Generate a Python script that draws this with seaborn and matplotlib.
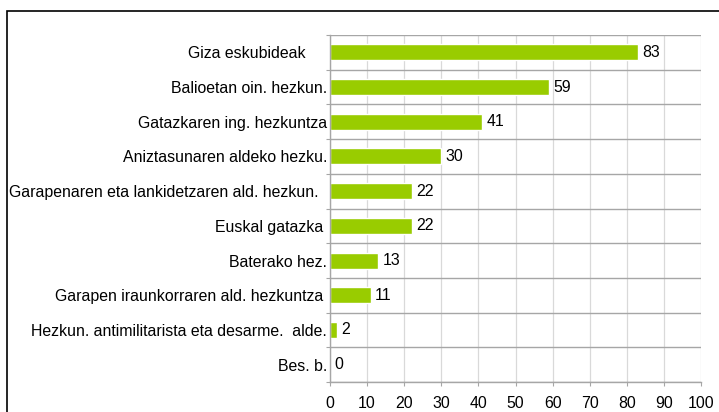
#!/usr/bin/env python3
"""Horizontal bar chart of education topics (counts) with seaborn."""

import matplotlib
matplotlib.use("Agg")
import matplotlib.pyplot as plt
from matplotlib.patches import Rectangle
import numpy as np
import pandas as pd
import seaborn as sns

categories = [
    "Giza eskubideak     ",
    "Balioetan oin. hezkun.",
    "Gatazkaren ing. hezkuntza",
    "Aniztasunaren aldeko hezku.",
    "Garapenaren eta lankidetzaren ald. hezkun.  ",
    "Euskal gatazka ",
    "Baterako hez.",
    "Garapen iraunkorraren ald. hezkuntza ",
    "Hezkun. antimilitarista eta desarme.  alde.",
    "Bes. b.",
]
values = [83, 59, 41, 30, 22, 22, 13, 11, 2, 0]
x_ticks = list(range(0, 101, 10))

BAR_COLOR = "#99CC00"
FS = 11.4

sns.set_theme(style="white")
plt.rcParams["font.family"] = ["Liberation Sans", "DejaVu Sans"]
plt.rcParams["font.size"] = FS

df = pd.DataFrame({"label": categories, "value": values})

fig = plt.figure(figsize=(7.19, 4.12), dpi=100)
ax = fig.add_axes([330 / 719, 1 - 382 / 412, 371 / 719, 347 / 412])

sns.barplot(data=df, x="value", y="label", orient="h", color=BAR_COLOR,
            saturation=1, width=0.46, ax=ax)

ax.set_xlim(0, 100)
ax.set_ylim(len(categories) - 0.5, -0.5)
ax.set_xlabel("")
ax.set_ylabel("")

# vertical light grid at the x ticks
ax.set_xticks(x_ticks)
ax.set_xticklabels([str(t) for t in x_ticks])
ax.grid(axis="x", which="major", color="#D9D9D9", linewidth=0.9)

# horizontal darker lines at category boundaries
ax.set_yticks(np.arange(-0.5, len(categories), 1.0), minor=True)
ax.grid(axis="y", which="minor", color="#A6A6A6", linewidth=1.0)
ax.set_axisbelow(True)

ax.tick_params(axis="y", which="major", length=0, pad=2, labelsize=FS, colors="black")
ax.tick_params(axis="y", which="minor", length=3, width=0.8, color="#A6A6A6", left=True)
ax.tick_params(axis="x", which="major", length=3, width=0.8, color="#A6A6A6",
               bottom=True, pad=7, labelsize=FS, labelcolor="black")

for side in ("top", "right"):
    ax.spines[side].set_visible(False)
for side in ("left", "bottom"):
    ax.spines[side].set_color("#A6A6A6")
    ax.spines[side].set_linewidth(1.0)

ax.bar_label(ax.containers[0], labels=[str(v) for v in values], padding=3,
             fontsize=FS, color="black")

# outer chart border (runs off the right and bottom of the image)
fig.patches.append(Rectangle((7 / 719, -0.2), 1.5, 1.2 - 11 / 412,
                             transform=fig.transFigure, fill=False,
                             edgecolor="black", linewidth=1.2, clip_on=False))

fig.savefig("out.png", dpi=100)
